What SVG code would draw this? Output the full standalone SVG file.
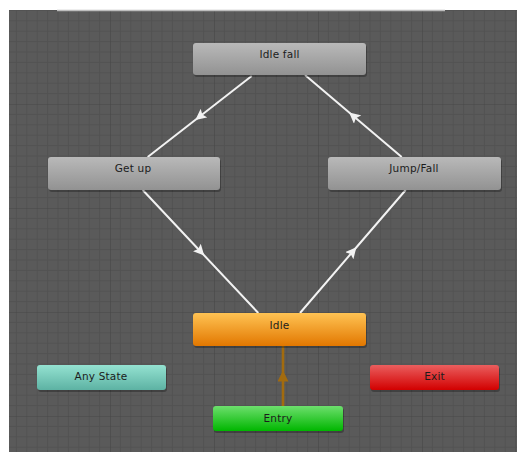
<svg xmlns="http://www.w3.org/2000/svg" width="517" height="452" viewBox="0 0 517 452">
<style>
.node text{font-family:"DejaVu Sans",Verdana,sans-serif;font-size:10.5px;letter-spacing:0.2px;fill:#1c1c1c;text-anchor:middle}
.shadow{fill:#000;opacity:0.28}
.conn{fill:none;stroke:#f2f2f2;stroke-width:2}
.conn.entry{stroke:#a26b0e;stroke-width:2.6}
.minor{stroke:#525252;stroke-width:1;fill:none}
.major{stroke:#474747;stroke-width:1.2;fill:none}
</style>
<defs>
<linearGradient id="gGray" x1="0" y1="0" x2="0" y2="1"><stop offset="0" stop-color="#b9b9b9"/><stop offset="1" stop-color="#929292"/></linearGradient>
<linearGradient id="gOrange" x1="0" y1="0" x2="0" y2="1"><stop offset="0" stop-color="#ffc353"/><stop offset="1" stop-color="#e27700"/></linearGradient>
<linearGradient id="gGreen" x1="0" y1="0" x2="0" y2="1"><stop offset="0" stop-color="#6ddf6d"/><stop offset="1" stop-color="#00b600"/></linearGradient>
<linearGradient id="gTeal" x1="0" y1="0" x2="0" y2="1"><stop offset="0" stop-color="#94e2d1"/><stop offset="1" stop-color="#5db2a3"/></linearGradient>
<linearGradient id="gRed" x1="0" y1="0" x2="0" y2="1"><stop offset="0" stop-color="#ea5e5e"/><stop offset="1" stop-color="#d20000"/></linearGradient>
<pattern id="grid" patternUnits="userSpaceOnUse" x="6" y="0" width="104" height="104">
<rect width="104" height="104" fill="#5a5a5a"/>
<path class="minor" d="M10.4,0V104M20.8,0V104M31.2,0V104M41.6,0V104M52,0V104M62.4,0V104M72.8,0V104M83.2,0V104M93.6,0V104M0,10.4H104M0,20.8H104M0,31.2H104M0,41.6H104M0,52H104M0,62.4H104M0,72.8H104M0,83.2H104M0,93.6H104"/>
<path class="major" d="M0,0V104M0,0H104"/>
</pattern>
<marker id="arrW" viewBox="0 0 10 10" markerWidth="11" markerHeight="11" markerUnits="userSpaceOnUse" refX="5" refY="5" orient="auto">
<path d="M0,0 L10,5 L0,10 L2,5 Z" fill="#f2f2f2"/>
</marker>
<marker id="arrO" viewBox="0 0 10 10" markerWidth="11" markerHeight="11" markerUnits="userSpaceOnUse" refX="5" refY="5" orient="auto">
<path d="M0,0 L10,5 L0,10 Z" fill="#a26b0e"/>
</marker>
</defs>
<rect width="517" height="452" fill="#ffffff"/>
<rect x="9" y="10" width="508" height="442" fill="url(#grid)"/>
<line x1="57" y1="10.5" x2="445" y2="10.5" stroke="#bdbdbd" stroke-width="1.5"/>

<g id="connectors">
<path class="conn" d="M251.7,76 L199.7,116.5 L147.7,157" marker-mid="url(#arrW)"/>
<path class="conn" d="M401.7,157 L353.3,116 L305,75" marker-mid="url(#arrW)"/>
<path class="conn" d="M142.7,190 L200.5,251.5 L258.3,313" marker-mid="url(#arrW)"/>
<path class="conn" d="M300,313 L352.8,251.5 L405.7,190" marker-mid="url(#arrW)"/>
<path class="conn entry" d="M283,406 L283,376 L283,346" marker-mid="url(#arrO)"/>
</g>

<g id="idle-fall" class="node">
<rect class="shadow" x="194" y="45" width="173" height="32" rx="3"/>
<rect x="193" y="43" width="173" height="32" rx="3" fill="url(#gGray)"/>
<text x="279.5" y="58">Idle fall</text>
</g>
<g id="get-up" class="node">
<rect class="shadow" x="49" y="159" width="172" height="33" rx="3"/>
<rect x="48" y="157" width="172" height="33" rx="3" fill="url(#gGray)"/>
<text x="133" y="172">Get up</text>
</g>
<g id="jump-fall" class="node">
<rect class="shadow" x="329" y="159" width="173" height="33" rx="3"/>
<rect x="328" y="157" width="173" height="33" rx="3" fill="url(#gGray)"/>
<text x="414" y="172">Jump/Fall</text>
</g>
<g id="idle" class="node">
<rect class="shadow" x="194" y="315" width="173" height="33" rx="3"/>
<rect x="193" y="313" width="173" height="33" rx="3" fill="url(#gOrange)"/>
<text x="279.5" y="329">Idle</text>
</g>
<g id="any-state" class="node">
<rect class="shadow" x="38" y="367" width="129" height="25" rx="3"/>
<rect x="37" y="365" width="129" height="25" rx="3" fill="url(#gTeal)"/>
<text x="101" y="380">Any State</text>
</g>
<g id="exit" class="node">
<rect class="shadow" x="371" y="367" width="129" height="25" rx="3"/>
<rect x="370" y="365" width="129" height="25" rx="3" fill="url(#gRed)"/>
<text x="434.5" y="380">Exit</text>
</g>
<g id="entry" class="node">
<rect class="shadow" x="214" y="408" width="130" height="25" rx="3"/>
<rect x="213" y="406" width="130" height="25" rx="3" fill="url(#gGreen)"/>
<text x="278" y="422">Entry</text>
</g>
</svg>
